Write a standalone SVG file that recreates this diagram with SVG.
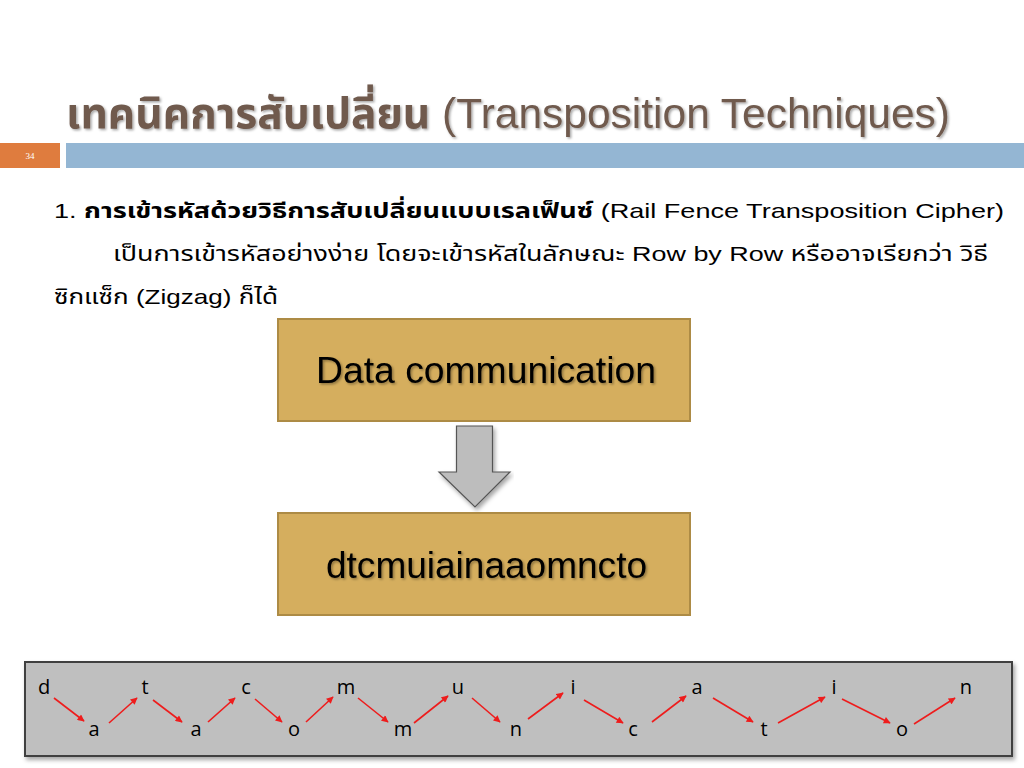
<svg xmlns="http://www.w3.org/2000/svg" width="1024" height="768" viewBox="0 0 1024 768">
<defs>
<style>
.title{font-family:"Liberation Sans Narrow","Liberation Sans","Noto Sans Thai",sans-serif;font-size:42px;fill:#6f5a4e;}
.body{font-family:"Liberation Sans","Noto Sans Thai","Noto Sans",sans-serif;font-size:21px;fill:#000;}
.bold{font-weight:bold;}
.box{fill:#d5ae5e;stroke:#ad8b45;stroke-width:2;}
.boxtxt{font-family:"Liberation Sans",sans-serif;font-size:36px;fill:#000;}
.ltr{font-family:"Open Sans","Liberation Sans",sans-serif;font-size:20px;fill:#000;text-anchor:middle;}
.zz{stroke:#ee1c1c;stroke-width:1.6;fill:none;marker-end:url(#ah);}
</style>
<marker id="ah" viewBox="0 0 10 10" refX="9" refY="5" markerWidth="8" markerHeight="7" orient="auto" markerUnits="userSpaceOnUse">
<path d="M0,0 L10,5 L0,10 z" fill="#ee1c1c"/>
</marker>
<filter id="ts" x="-5%" y="-20%" width="110%" height="140%">
<feDropShadow dx="1.5" dy="1.5" stdDeviation="1" flood-color="#000" flood-opacity="0.35"/>
</filter>
<filter id="bs" x="-5%" y="-10%" width="110%" height="130%">
<feDropShadow dx="2" dy="3" stdDeviation="2" flood-color="#000" flood-opacity="0.35"/>
</filter>
</defs>
<rect width="1024" height="768" fill="#fff"/>

<g id="header">
<text class="title" x="66" y="128" filter="url(#ts)" textLength="884" lengthAdjust="spacingAndGlyphs"><tspan class="bold">เทคนิคการสับเปลี่ยน</tspan> (Transposition Techniques)</text>
<rect x="0" y="143" width="60" height="25" fill="#df7c3e"/>
<text x="30" y="159" font-family="Liberation Serif,serif" font-size="9" fill="#fff" text-anchor="middle">34</text>
<rect x="66" y="143" width="958" height="25" fill="#94b6d3"/>
</g>

<g id="body-text">
<text class="body" x="54" y="218" textLength="950" lengthAdjust="spacingAndGlyphs">1. <tspan class="bold">การเข้ารหัสด้วยวิธีการสับเปลี่ยนแบบเรลเฟ็นซ์</tspan> (Rail Fence Transposition Cipher)</text>
<text class="body" x="113" y="261" textLength="875" lengthAdjust="spacingAndGlyphs">เป็นการเข้ารหัสอย่างง่าย โดยจะเข้ารหัสในลักษณะ Row by Row หรืออาจเรียกว่า วิธี</text>
<text class="body" x="54" y="304" textLength="224" lengthAdjust="spacingAndGlyphs">ซิกแซ็ก (Zigzag) ก็ได้</text>
</g>

<g id="node-plain">
<rect class="box" x="278" y="319" width="412" height="102"/>
<text class="boxtxt" x="316" y="383" filter="url(#ts)" textLength="340" lengthAdjust="spacingAndGlyphs">Data communication</text>
</g>

<g id="connectors">
<path d="M456.5,426 H492.5 V472 H510 L475,507 L439,472 H456.5 Z" fill="#bdbdbd" stroke="#555" stroke-width="1.2" filter="url(#bs)"/>
</g>

<g id="node-cipher">
<rect class="box" x="278" y="513" width="412" height="102"/>
<text class="boxtxt" x="326" y="578" filter="url(#ts)" textLength="321" lengthAdjust="spacingAndGlyphs">dtcmuiainaaomncto</text>
</g>

<g id="zigzag">
<rect x="25" y="662" width="987" height="94" fill="#bfbfbf" stroke="#3f3f3f" stroke-width="2" filter="url(#bs)"/>
<g id="letters">
<text class="ltr" x="44" y="694">d</text>
<text class="ltr" x="145" y="694">t</text>
<text class="ltr" x="246" y="694">c</text>
<text class="ltr" x="346" y="694">m</text>
<text class="ltr" x="458" y="694">u</text>
<text class="ltr" x="573" y="694">i</text>
<text class="ltr" x="697" y="694">a</text>
<text class="ltr" x="834" y="694">i</text>
<text class="ltr" x="966" y="694">n</text>
<text class="ltr" x="94" y="736">a</text>
<text class="ltr" x="196" y="736">a</text>
<text class="ltr" x="294" y="736">o</text>
<text class="ltr" x="403" y="736">m</text>
<text class="ltr" x="516" y="736">n</text>
<text class="ltr" x="633" y="736">c</text>
<text class="ltr" x="764" y="736">t</text>
<text class="ltr" x="902" y="736">o</text>
</g>
<g id="zigzag-arrows">
<line class="zz" x1="54" y1="698" x2="84" y2="721"/>
<line class="zz" x1="109" y1="723" x2="137" y2="698"/>
<line class="zz" x1="153" y1="700" x2="182" y2="722"/>
<line class="zz" x1="208" y1="722" x2="235" y2="698"/>
<line class="zz" x1="255" y1="699" x2="282" y2="722"/>
<line class="zz" x1="306" y1="722" x2="333" y2="697"/>
<line class="zz" x1="358" y1="698" x2="388" y2="722"/>
<line class="zz" x1="414" y1="723" x2="448" y2="696"/>
<line class="zz" x1="472" y1="698" x2="500" y2="722"/>
<line class="zz" x1="528" y1="719" x2="563" y2="693"/>
<line class="zz" x1="584" y1="700" x2="623" y2="723"/>
<line class="zz" x1="652" y1="722" x2="686" y2="696"/>
<line class="zz" x1="713" y1="698" x2="753" y2="722"/>
<line class="zz" x1="778" y1="723" x2="825" y2="697"/>
<line class="zz" x1="842" y1="699" x2="890" y2="723"/>
<line class="zz" x1="914" y1="724" x2="955" y2="698"/>
</g>
</g>
</svg>
